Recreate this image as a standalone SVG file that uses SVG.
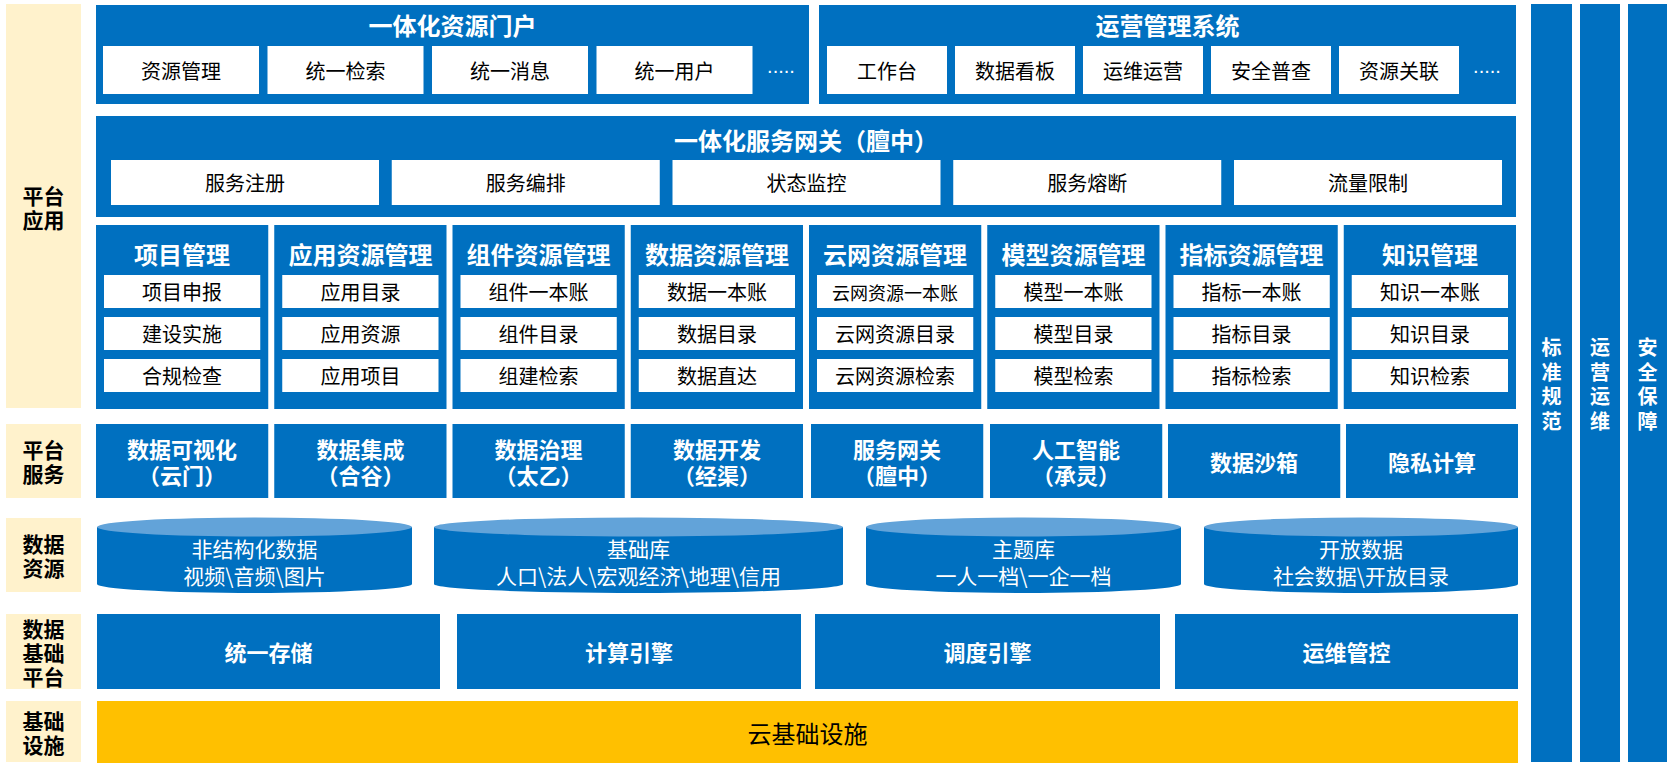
<svg xmlns="http://www.w3.org/2000/svg" width="1669" height="766" viewBox="0 0 1669 766">
<style>
text{font-family:"Noto Sans CJK SC","Noto Sans CJK JP",sans-serif;text-anchor:middle;dominant-baseline:central}
.b{fill:#0070C0}
.w{fill:#FFFFFF}
.c{fill:#FFF2CC}
.y{fill:#FFC000}
.top{fill:#62A3D9}
.lbl{font-size:21px;font-weight:bold;fill:#000}
.ttl{font-size:24px;font-weight:bold;fill:#fff}
.itm{font-size:20px;fill:#000}
.svc{font-size:22px;font-weight:bold;fill:#fff}
.cyl{font-size:21px;fill:#fff}
.dot{font-family:"Liberation Sans",sans-serif;font-size:20px;fill:#fff}
.vt{font-size:20px;font-weight:bold;fill:#fff}
</style>
<rect width="1669" height="766" fill="#fff"/>

<g id="labels">
  <g id="lbl-app"><rect class="c" x="6" y="4" width="75" height="404"/><text class="lbl" x="43.5" y="194.5">平台<tspan x="43.5" dy="24">应用</tspan></text></g>
  <g id="lbl-svc"><rect class="c" x="6" y="424" width="75" height="74"/><text class="lbl" x="43.5" y="449">平台<tspan x="43.5" dy="24">服务</tspan></text></g>
  <g id="lbl-data"><rect class="c" x="6" y="518" width="75" height="74"/><text class="lbl" x="43.5" y="543">数据<tspan x="43.5" dy="24">资源</tspan></text></g>
  <g id="lbl-base"><rect class="c" x="6" y="614" width="75" height="75"/><text class="lbl" x="43.5" y="627.5">数据<tspan x="43.5" dy="24">基础</tspan><tspan x="43.5" dy="24">平台</tspan></text></g>
  <g id="lbl-infra"><rect class="c" x="6" y="701" width="75" height="61"/><text class="lbl" x="43.5" y="719.5">基础<tspan x="43.5" dy="24">设施</tspan></text></g>
</g>

<g id="portal">
  <rect class="b" x="96" y="5" width="713" height="99"/>
  <text class="ttl" x="452.5" y="24">一体化资源门户</text>
  <rect class="w" x="103" y="46" width="156" height="48"/><text class="itm" x="181" y="70">资源管理</text>
  <rect class="w" x="267.5" y="46" width="156" height="48"/><text class="itm" x="345.5" y="70">统一检索</text>
  <rect class="w" x="432" y="46" width="156" height="48"/><text class="itm" x="510" y="70">统一消息</text>
  <rect class="w" x="596.5" y="46" width="156" height="48"/><text class="itm" x="674.5" y="70">统一用户</text>
  <text class="dot" x="781" y="66">.....</text>
</g>

<g id="ops">
  <rect class="b" x="819" y="5" width="697" height="99"/>
  <text class="ttl" x="1167.5" y="24">运营管理系统</text>
  <rect class="w" x="827" y="46" width="120" height="48"/><text class="itm" x="887" y="70">工作台</text>
  <rect class="w" x="955" y="46" width="120" height="48"/><text class="itm" x="1015" y="70">数据看板</text>
  <rect class="w" x="1083" y="46" width="120" height="48"/><text class="itm" x="1143" y="70">运维运营</text>
  <rect class="w" x="1211" y="46" width="120" height="48"/><text class="itm" x="1271" y="70">安全普查</text>
  <rect class="w" x="1339" y="46" width="120" height="48"/><text class="itm" x="1399" y="70">资源关联</text>
  <text class="dot" x="1487" y="66">.....</text>
</g>

<g id="gateway">
  <rect class="b" x="96" y="116" width="1420" height="101"/>
  <text class="ttl" x="806" y="139">一体化服务网关（膻中）</text>
  <rect class="w" x="111" y="160" width="268" height="45"/><text class="itm" x="245" y="182.5">服务注册</text>
  <rect class="w" x="391.75" y="160" width="268" height="45"/><text class="itm" x="525.75" y="182.5">服务编排</text>
  <rect class="w" x="672.5" y="160" width="268" height="45"/><text class="itm" x="806.5" y="182.5">状态监控</text>
  <rect class="w" x="953.25" y="160" width="268" height="45"/><text class="itm" x="1087.25" y="182.5">服务熔断</text>
  <rect class="w" x="1234" y="160" width="268" height="45"/><text class="itm" x="1368" y="182.5">流量限制</text>
</g>

<g id="mgmt">
  <g id="m1"><rect class="b" x="96" y="225" width="172.25" height="184"/><text class="ttl" x="182.1" y="253">项目管理</text>
    <rect class="w" x="104" y="275" width="156.25" height="33"/><text class="itm" x="182.1" y="291.5">项目申报</text>
    <rect class="w" x="104" y="317" width="156.25" height="33"/><text class="itm" x="182.1" y="333.5">建设实施</text>
    <rect class="w" x="104" y="359" width="156.25" height="33"/><text class="itm" x="182.1" y="375.5">合规检查</text></g>
  <g id="m2"><rect class="b" x="274.25" y="225" width="172.25" height="184"/><text class="ttl" x="360.4" y="253">应用资源管理</text>
    <rect class="w" x="282.25" y="275" width="156.25" height="33"/><text class="itm" x="360.4" y="291.5">应用目录</text>
    <rect class="w" x="282.25" y="317" width="156.25" height="33"/><text class="itm" x="360.4" y="333.5">应用资源</text>
    <rect class="w" x="282.25" y="359" width="156.25" height="33"/><text class="itm" x="360.4" y="375.5">应用项目</text></g>
  <g id="m3"><rect class="b" x="452.5" y="225" width="172.25" height="184"/><text class="ttl" x="538.6" y="253">组件资源管理</text>
    <rect class="w" x="460.5" y="275" width="156.25" height="33"/><text class="itm" x="538.6" y="291.5">组件一本账</text>
    <rect class="w" x="460.5" y="317" width="156.25" height="33"/><text class="itm" x="538.6" y="333.5">组件目录</text>
    <rect class="w" x="460.5" y="359" width="156.25" height="33"/><text class="itm" x="538.6" y="375.5">组建检索</text></g>
  <g id="m4"><rect class="b" x="630.75" y="225" width="172.25" height="184"/><text class="ttl" x="716.9" y="253">数据资源管理</text>
    <rect class="w" x="638.75" y="275" width="156.25" height="33"/><text class="itm" x="716.9" y="291.5">数据一本账</text>
    <rect class="w" x="638.75" y="317" width="156.25" height="33"/><text class="itm" x="716.9" y="333.5">数据目录</text>
    <rect class="w" x="638.75" y="359" width="156.25" height="33"/><text class="itm" x="716.9" y="375.5">数据直达</text></g>
  <g id="m5"><rect class="b" x="809" y="225" width="172.25" height="184"/><text class="ttl" x="895.1" y="253">云网资源管理</text>
    <rect class="w" x="817" y="275" width="156.25" height="33"/><text class="itm" x="895.1" y="291.5" style="font-size:18px">云网资源一本账</text>
    <rect class="w" x="817" y="317" width="156.25" height="33"/><text class="itm" x="895.1" y="333.5">云网资源目录</text>
    <rect class="w" x="817" y="359" width="156.25" height="33"/><text class="itm" x="895.1" y="375.5">云网资源检索</text></g>
  <g id="m6"><rect class="b" x="987.25" y="225" width="172.25" height="184"/><text class="ttl" x="1073.4" y="253">模型资源管理</text>
    <rect class="w" x="995.25" y="275" width="156.25" height="33"/><text class="itm" x="1073.4" y="291.5">模型一本账</text>
    <rect class="w" x="995.25" y="317" width="156.25" height="33"/><text class="itm" x="1073.4" y="333.5">模型目录</text>
    <rect class="w" x="995.25" y="359" width="156.25" height="33"/><text class="itm" x="1073.4" y="375.5">模型检索</text></g>
  <g id="m7"><rect class="b" x="1165.5" y="225" width="172.25" height="184"/><text class="ttl" x="1251.6" y="253">指标资源管理</text>
    <rect class="w" x="1173.5" y="275" width="156.25" height="33"/><text class="itm" x="1251.6" y="291.5">指标一本账</text>
    <rect class="w" x="1173.5" y="317" width="156.25" height="33"/><text class="itm" x="1251.6" y="333.5">指标目录</text>
    <rect class="w" x="1173.5" y="359" width="156.25" height="33"/><text class="itm" x="1251.6" y="375.5">指标检索</text></g>
  <g id="m8"><rect class="b" x="1343.75" y="225" width="172.25" height="184"/><text class="ttl" x="1429.9" y="253">知识管理</text>
    <rect class="w" x="1351.75" y="275" width="156.25" height="33"/><text class="itm" x="1429.9" y="291.5">知识一本账</text>
    <rect class="w" x="1351.75" y="317" width="156.25" height="33"/><text class="itm" x="1429.9" y="333.5">知识目录</text>
    <rect class="w" x="1351.75" y="359" width="156.25" height="33"/><text class="itm" x="1429.9" y="375.5">知识检索</text></g>
</g>

<g id="services">
  <g id="s1"><rect class="b" x="96" y="424" width="172.25" height="74"/><text class="svc" x="182.1" y="448">数据可视化<tspan x="182.1" dy="26">（云门）</tspan></text></g>
  <g id="s2"><rect class="b" x="274.25" y="424" width="172.25" height="74"/><text class="svc" x="360.4" y="448">数据集成<tspan x="360.4" dy="26">（合谷）</tspan></text></g>
  <g id="s3"><rect class="b" x="452.5" y="424" width="172.25" height="74"/><text class="svc" x="538.6" y="448">数据治理<tspan x="538.6" dy="26">（太乙）</tspan></text></g>
  <g id="s4"><rect class="b" x="630.75" y="424" width="172.25" height="74"/><text class="svc" x="716.9" y="448">数据开发<tspan x="716.9" dy="26">（经渠）</tspan></text></g>
  <g id="s5"><rect class="b" x="811" y="424" width="172.25" height="74"/><text class="svc" x="897.1" y="448">服务网关<tspan x="897.1" dy="26">（膻中）</tspan></text></g>
  <g id="s6"><rect class="b" x="990" y="424" width="172.25" height="74"/><text class="svc" x="1076.1" y="448">人工智能<tspan x="1076.1" dy="26">（承灵）</tspan></text></g>
  <g id="s7"><rect class="b" x="1168" y="424" width="172.25" height="74"/><text class="svc" x="1254.1" y="461">数据沙箱</text></g>
  <g id="s8"><rect class="b" x="1346" y="424" width="172" height="74"/><text class="svc" x="1432" y="461">隐私计算</text></g>
</g>

<g id="data-resources">
  <g id="d1"><path class="b" d="M97,527 L97,584 A157.5,9 0 0 0 412,584 L412,527 Z"/><ellipse class="top" cx="254.5" cy="527" rx="157.5" ry="9.5"/>
    <text class="cyl" x="254.5" y="548">非结构化数据<tspan x="254.5" dy="27">视频\音频\图片</tspan></text></g>
  <g id="d2"><path class="b" d="M434,527 L434,584 A204.5,9 0 0 0 843,584 L843,527 Z"/><ellipse class="top" cx="638.5" cy="527" rx="204.5" ry="9.5"/>
    <text class="cyl" x="638.5" y="548">基础库<tspan x="638.5" dy="27">人口\法人\宏观经济\地理\信用</tspan></text></g>
  <g id="d3"><path class="b" d="M866,527 L866,584 A157.5,9 0 0 0 1181,584 L1181,527 Z"/><ellipse class="top" cx="1023.5" cy="527" rx="157.5" ry="9.5"/>
    <text class="cyl" x="1023.5" y="548">主题库<tspan x="1023.5" dy="27">一人一档\一企一档</tspan></text></g>
  <g id="d4"><path class="b" d="M1204,527 L1204,584 A157,9 0 0 0 1518,584 L1518,527 Z"/><ellipse class="top" cx="1361" cy="527" rx="157" ry="9.5"/>
    <text class="cyl" x="1361" y="548">开放数据<tspan x="1361" dy="27">社会数据\开放目录</tspan></text></g>
</g>

<g id="data-platform">
  <g id="p1"><rect class="b" x="97" y="614" width="343" height="75"/><text class="svc" x="268.5" y="651">统一存储</text></g>
  <g id="p2"><rect class="b" x="457" y="614" width="344" height="75"/><text class="svc" x="629" y="651">计算引擎</text></g>
  <g id="p3"><rect class="b" x="815" y="614" width="345" height="75"/><text class="svc" x="987.5" y="651">调度引擎</text></g>
  <g id="p4"><rect class="b" x="1175" y="614" width="343" height="75"/><text class="svc" x="1346.5" y="651">运维管控</text></g>
</g>

<g id="infra">
  <rect class="y" x="97" y="701" width="1421" height="62"/>
  <text x="807.5" y="732" style="font-size:24px;fill:#000">云基础设施</text>
</g>

<g id="side-bars">
  <g id="v1"><rect class="b" x="1531" y="4" width="41" height="758"/>
    <text class="vt" x="1551.5" y="346">标<tspan x="1551.5" dy="24.5">准</tspan><tspan x="1551.5" dy="24.5">规</tspan><tspan x="1551.5" dy="24.5">范</tspan></text></g>
  <g id="v2"><rect class="b" x="1580" y="4" width="40" height="758"/>
    <text class="vt" x="1600" y="346">运<tspan x="1600" dy="24.5">营</tspan><tspan x="1600" dy="24.5">运</tspan><tspan x="1600" dy="24.5">维</tspan></text></g>
  <g id="v3"><rect class="b" x="1628" y="4" width="39" height="758"/>
    <text class="vt" x="1647.5" y="346">安<tspan x="1647.5" dy="24.5">全</tspan><tspan x="1647.5" dy="24.5">保</tspan><tspan x="1647.5" dy="24.5">障</tspan></text></g>
</g>

<g id="connectors"/>
</svg>
